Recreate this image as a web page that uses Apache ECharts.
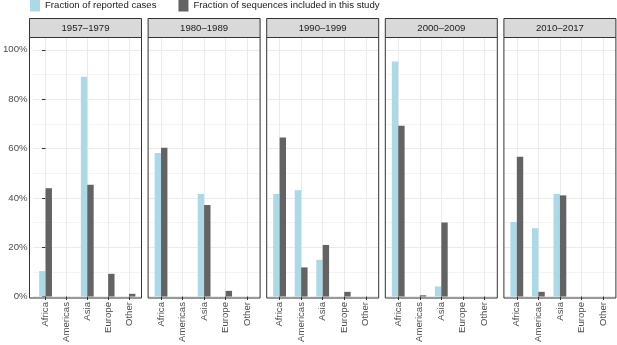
<!DOCTYPE html>
<html><head><meta charset="utf-8">
<script src="https://cdn.jsdelivr.net/npm/echarts@6/dist/echarts.min.js"></script>
<style>html,body{margin:0;padding:0;background:#fff}#c{width:617px;height:345px}</style>
</head><body><div id="c"></div>
<script>
// ---- data ----
const categories = ['Africa', 'Americas', 'Asia', 'Europe', 'Other'];
const periods = ['1957–1979', '1980–1989', '1990–1999', '2000–2009', '2010–2017'];
const seriesNames = ['Fraction of reported cases', 'Fraction of sequences included in this study'];
const yTicks = [0, 20, 40, 60, 80, 100];

// percent values per period (reported cases / sequences)
const reported_1957_1979 = [10.3, 0, 89.1, 0, 0];
const sequences_1957_1979 = [43.9, 0, 45.3, 9.2, 1.1];
const reported_1980_1989 = [58.2, 0, 41.6, 0, 0];
const sequences_1980_1989 = [60.3, 0, 37.1, 2.3, 0];
const reported_1990_1999 = [41.6, 43.1, 14.9, 0, 0];
const sequences_1990_1999 = [64.5, 11.8, 20.9, 1.9, 0];
const reported_2000_2009 = [95.3, 0, 4.1, 0, 0];
const sequences_2000_2009 = [69.2, 0.5, 30.0, 0, 0];
const reported_2010_2017 = [30.2, 27.7, 41.6, 0, 0];
const sequences_2010_2017 = [56.7, 1.9, 41.0, 0, 0];

const reportedByPeriod = [reported_1957_1979, reported_1980_1989, reported_1990_1999, reported_2000_2009, reported_2010_2017];
const sequencesByPeriod = [sequences_1957_1979, sequences_1980_1989, sequences_1990_1999, sequences_2000_2009, sequences_2010_2017];

// ---- layout / style ----
const FONT = "'Liberation Sans', Arial, Helvetica, sans-serif";
const FS = 9.6;
const panelLeft0 = 29.5, panelStep = 118.6, panelW = 112;
const panelTop = 37.5, panelH = 260.5;
const stripTop = 18.5, stripH = 19;
const colors = ['#ADD8E6', '#636363'];
const catIdx = categories.map((_, i) => i);

const grids = [], xAxes = [], yAxes = [], series = [], graphics = [];
periods.forEach((p, i) => {
  const L = panelLeft0 + i * panelStep;
  grids.push({left: L, top: panelTop, width: panelW, height: panelH, show: false, containLabel: false});
  xAxes.push({gridIndex: i, type: 'value', min: -0.6, max: 4.6,
    axisLine: {show: false},
    axisTick: {show: true, customValues: catIdx, length: 3.5, lineStyle: {color: '#333333'}},
    axisLabel: {customValues: catIdx, formatter: v => categories[Math.round(v)], rotate: 90,
      margin: 5.5, fontSize: FS, fontFamily: FONT, color: '#4D4D4D'},
    splitLine: {show: true, lineStyle: {color: '#EBEBEB', width: 1}}
  });
  yAxes.push({gridIndex: i, type: 'value', min: 0, max: 105, interval: 20,
    axisLine: {show: false},
    axisTick: {show: i === 0, customValues: yTicks, length: 3.5, lineStyle: {color: '#333333'}},
    axisLabel: {show: i === 0, customValues: yTicks, formatter: v => v + '%', margin: 5.5,
      fontSize: FS, fontFamily: FONT, color: '#4D4D4D'},
    splitLine: {show: true, lineStyle: {color: '#EBEBEB', width: 1}},
    minorTick: {show: false, splitNumber: 2},
    minorSplitLine: {show: true, lineStyle: {color: '#F4F4F4', width: 1}}
  });
  [reportedByPeriod[i], sequencesByPeriod[i]].forEach((vals, k) => {
    series.push({type: 'bar', name: seriesNames[k], xAxisIndex: i, yAxisIndex: i,
      data: vals.map((v, j) => [j, v]), barWidth: 6.4, barGap: '0%',
      itemStyle: {color: colors[k]}, silent: true});
  });
  graphics.push({type: 'group', z: 100, children: [
    {type: 'rect', z: 100, shape: {x: L, y: panelTop, width: panelW, height: panelH},
      style: {fill: null, stroke: '#333333', lineWidth: 1}},
    {type: 'rect', z: 100, shape: {x: L, y: stripTop, width: panelW, height: stripH},
      style: {fill: '#D9D9D9', stroke: '#333333', lineWidth: 1}},
    {type: 'text', z: 101, style: {text: p, x: L + panelW / 2, y: stripTop + stripH / 2 + 0.5, align: 'center',
      verticalAlign: 'middle', font: FS + 'px ' + FONT, fill: '#1A1A1A'}}
  ]});
});

const chart = echarts.init(document.getElementById('c'), null, {renderer: 'canvas'});
chart.setOption({
  animation: false,
  backgroundColor: '#ffffff',
  legend: {data: seriesNames, top: -0.5, left: 30, padding: 0, itemWidth: 10, itemHeight: 12,
    itemGap: 22, icon: 'rect', selectedMode: false,
    textStyle: {fontSize: FS, fontFamily: FONT, color: '#1A1A1A'}},
  grid: grids, xAxis: xAxes, yAxis: yAxes, series: series, graphic: graphics
});
</script></body></html>
